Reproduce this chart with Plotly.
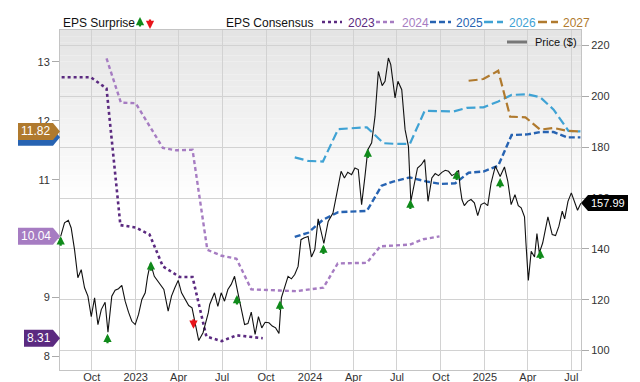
import plotly.graph_objects as go

# ---------------- data ----------------
price_dates = [
    "2022-07-28", "2022-08-05", "2022-08-13", "2022-08-19", "2022-08-26", "2022-09-02", "2022-09-09",
    "2022-09-16", "2022-09-23", "2022-09-30", "2022-10-07", "2022-10-14", "2022-10-21", "2022-10-29",
    "2022-11-04", "2022-11-12", "2022-11-19", "2022-11-26", "2022-12-03", "2022-12-10", "2022-12-17",
    "2022-12-24", "2022-12-31", "2023-01-07", "2023-01-14", "2023-01-21", "2023-01-26", "2023-02-01",
    "2023-02-09", "2023-02-17", "2023-02-24", "2023-03-01", "2023-03-10", "2023-03-17", "2023-03-24",
    "2023-03-31", "2023-04-07", "2023-04-15", "2023-04-22", "2023-04-29", "2023-05-06", "2023-05-13",
    "2023-05-22", "2023-06-02", "2023-06-05", "2023-06-15", "2023-06-22", "2023-06-29", "2023-07-06",
    "2023-07-13", "2023-07-20", "2023-07-27", "2023-08-03", "2023-08-10", "2023-08-17", "2023-08-24",
    "2023-08-31", "2023-09-08", "2023-09-15", "2023-09-22", "2023-09-29", "2023-10-07", "2023-10-14",
    "2023-10-21", "2023-10-28", "2023-11-02", "2023-11-09", "2023-11-16", "2023-11-23", "2023-11-30",
    "2023-12-07", "2023-12-13", "2023-12-19", "2023-12-28", "2024-01-04", "2024-01-11", "2024-01-18",
    "2024-01-30", "2024-02-08", "2024-02-18", "2024-02-25", "2024-03-06", "2024-03-13", "2024-03-20",
    "2024-03-28", "2024-04-04", "2024-04-11", "2024-04-18", "2024-04-25", "2024-05-01", "2024-05-09",
    "2024-05-16", "2024-05-23", "2024-05-31", "2024-06-06", "2024-06-13", "2024-06-18", "2024-06-27",
    "2024-07-03", "2024-07-11", "2024-07-18", "2024-07-25", "2024-07-30", "2024-08-06", "2024-08-13",
    "2024-08-21", "2024-08-28", "2024-09-04", "2024-09-12", "2024-09-19", "2024-09-26", "2024-10-03",
    "2024-10-10", "2024-10-17", "2024-10-24", "2024-10-31", "2024-11-07", "2024-11-10", "2024-11-14",
    "2024-11-19", "2024-11-26", "2024-12-03", "2024-12-10", "2024-12-17", "2024-12-24", "2024-12-31",
    "2025-01-07", "2025-01-14", "2025-01-23", "2025-02-02", "2025-02-11", "2025-02-18", "2025-02-25",
    "2025-03-05", "2025-03-12", "2025-03-18", "2025-03-25", "2025-03-28", "2025-04-02", "2025-04-08",
    "2025-04-15", "2025-04-20", "2025-04-25", "2025-05-02", "2025-05-08", "2025-05-13", "2025-05-22",
    "2025-05-29", "2025-06-05", "2025-06-12", "2025-06-17", "2025-06-24", "2025-07-01", "2025-07-07",
    "2025-07-14", "2025-07-21",
]
price_values = [
    144.9, 150.2, 151.2, 148.2, 139.7, 128.6, 131.8,
    124.7, 121.4, 113.3, 120.7, 110.2, 116.1, 119.0,
    107.2, 121.4, 123.7, 124.3, 125.6, 119.4, 115.1,
    111.5, 110.2, 114.2, 120.1, 122.7, 129.2, 134.5,
    129.2, 127.2, 125.0, 124.0, 115.5, 121.4, 124.7,
    127.6, 122.7, 120.1, 117.7, 116.8, 110.2, 103.9,
    107.0, 114.8, 118.1, 122.7, 117.4, 122.7, 119.4,
    124.0, 126.0, 129.2, 122.7, 116.8, 110.2, 110.6,
    115.1, 106.3, 113.3, 108.9, 111.1, 110.9, 109.6,
    108.9, 106.7, 120.7, 124.7, 129.2, 128.2, 129.9,
    133.1, 143.6, 144.3, 144.9, 136.8, 139.7, 151.8,
    142.1, 150.8, 154.1, 160.7, 170.5, 167.9, 170.1,
    169.2, 171.8, 171.2, 157.4, 168.5, 179.0, 181.7,
    192.1, 209.8, 204.2, 205.9, 215.1, 212.5, 199.4,
    205.9, 202.6, 186.9, 180.3, 158.7, 165.9, 171.8,
    173.1, 175.1, 158.7, 167.9, 169.6, 168.8, 170.1,
    170.9, 170.5, 168.8, 169.6, 170.9, 164.6, 159.4,
    157.0, 158.7, 159.4, 158.1, 153.1, 157.4, 158.1,
    157.0, 165.9, 172.5, 168.5, 172.2, 166.6, 157.4,
    161.3, 157.0, 156.1, 152.6, 142.3, 127.6, 139.0,
    136.8, 146.0, 138.4, 142.3, 148.2, 152.6, 145.6,
    145.2, 148.9, 154.8, 151.8, 158.7, 162.0, 158.7,
    155.2, 157.99,
]

eps2023_dates = ["2022-07-30", "2022-09-29", "2022-11-01", "2022-11-30", "2023-01-01", "2023-01-30",
                 "2023-02-27", "2023-04-03", "2023-04-30", "2023-05-29", "2023-06-30", "2023-07-31",
                 "2023-09-24"]
eps2023_values = [12.74, 12.74, 12.55, 10.23, 10.19, 10.07, 9.53, 9.35, 9.35, 8.34, 8.26, 8.36, 8.31]

eps2024_dates = ["2022-11-01", "2022-12-01", "2023-01-01", "2023-02-27", "2023-03-27", "2023-04-30",
                 "2023-05-31", "2023-06-30", "2023-07-31", "2023-08-31", "2023-10-30", "2023-12-04",
                 "2024-01-29", "2024-02-28", "2024-04-29", "2024-05-27", "2024-07-28", "2024-08-25",
                 "2024-09-28"]
eps2024_values = [13.06, 12.31, 12.30, 11.54, 11.50, 11.51, 9.81, 9.71, 9.66, 9.14, 9.12, 9.11,
                  9.17, 9.58, 9.59, 9.87, 9.90, 9.99, 10.04]

eps2025_dates = ["2023-11-30", "2023-12-28", "2024-01-28", "2024-02-29", "2024-04-29", "2024-05-30",
                 "2024-06-23", "2024-07-28", "2024-09-01", "2024-09-30", "2024-10-31", "2024-11-28",
                 "2024-12-29", "2025-01-29", "2025-02-26", "2025-03-31", "2025-04-27", "2025-05-25",
                 "2025-06-22", "2025-07-20"]
eps2025_values = [10.03, 10.10, 10.32, 10.45, 10.47, 10.90, 10.97, 11.04, 10.97, 10.93, 10.94, 11.12,
                  11.14, 11.24, 11.76, 11.77, 11.81, 11.81, 11.72, 11.72]

eps2026_dates = ["2023-11-30", "2023-12-28", "2024-01-28", "2024-02-29", "2024-04-29", "2024-06-03",
                 "2024-06-27", "2024-07-28", "2024-08-28", "2024-09-30", "2024-10-28", "2024-11-24",
                 "2024-12-29", "2025-01-29", "2025-02-26", "2025-03-31", "2025-04-27", "2025-05-25",
                 "2025-06-25", "2025-07-20"]
eps2026_values = [11.38, 11.32, 11.31, 11.86, 11.89, 11.62, 11.61, 11.61, 12.17, 12.16, 12.16, 12.22,
                  12.23, 12.33, 12.44, 12.45, 12.40, 12.19, 11.83, 11.82]

eps2027_dates = ["2024-11-28", "2024-12-29", "2025-01-29", "2025-02-23", "2025-03-27", "2025-04-27",
                 "2025-05-25", "2025-06-22", "2025-07-20"]
eps2027_values = [12.68, 12.71, 12.85, 12.07, 12.06, 11.85, 11.88, 11.83, 11.82]

surprise_dates = ["2022-07-28", "2022-11-03", "2023-02-02", "2023-05-02", "2023-08-01", "2023-10-30",
                  "2024-01-29", "2024-05-01", "2024-07-29", "2024-11-03", "2025-02-02", "2025-04-27"]
surprise_values = [145.0, 106.6, 135.1, 108.6, 121.8, 119.7, 141.7, 179.5, 159.4, 170.8, 167.9, 139.7]
surprise_beat = [True, True, True, False, True, True, True, True, True, True, True, True]

x_tick_values = ["2022-10-01", "2023-01-01", "2023-04-01", "2023-07-01", "2023-10-01", "2024-01-01",
                 "2024-04-01", "2024-07-01", "2024-10-01", "2025-01-01", "2025-04-01", "2025-07-01"]
x_tick_labels = ["Oct", "2023", "Apr", "Jul", "Oct", "2024", "Apr", "Jul", "Oct", "2025", "Apr", "Jul"]
eps_ticks = [8, 9, 10, 11, 12, 13]
price_ticks = [100, 120, 140, 160, 180, 200, 220]

# ---------------- style ----------------
FONT = "Liberation Sans, Arial, sans-serif"
# the page body has an 8px default margin, so the figure is drawn 8px smaller
W, H = 632, 374
ML, MR, MT, MB = 52, 59, 22, 12
PW, PH = W - ML - MR, H - MT - MB
OFF = 8

C23, C24, C25, C26, C27 = "#5b2a80", "#a67cc2", "#2763b2", "#3fa2d4", "#b07a2e"
GREEN, RED = "#0f8a1a", "#e8141a"


def px(x):  # page pixel -> paper x
    return (x - OFF - ML) / PW


def py(y):  # page pixel -> paper y
    return 1 - (y - OFF - MT) / PH


fig = go.Figure()

series = [
    (eps2023_dates, eps2023_values, C23, "dot", 2.6),
    (eps2024_dates, eps2024_values, C24, "4px,3px", 2.4),
    (eps2025_dates, eps2025_values, C25, "6px,3px", 2.4),
    (eps2026_dates, eps2026_values, C26, "9px,4px", 2.2),
    (eps2027_dates, eps2027_values, C27, "9px,4px", 2.2),
]
for d, v, c, dash, w in series:
    fig.add_trace(go.Scatter(x=d, y=v, mode="lines", yaxis="y",
                             line=dict(color=c, dash=dash, width=w),
                             hoverinfo="skip", showlegend=False))

fig.add_trace(go.Scatter(x=price_dates, y=price_values, mode="lines", yaxis="y2",
                         line=dict(color="#111111", width=1.1),
                         hoverinfo="skip", showlegend=False))

shapes = []
annotations = []

# background gradient
nb = 28
for i in range(nb):
    g = int(round(228 + (255 - 228) * (i / (nb - 1))))
    top = 1 - 0.52 * i / nb
    bot = 1 - 0.52 * (i + 1) / nb
    shapes.append(dict(type="rect", xref="paper", yref="paper", x0=0, x1=1, y0=bot, y1=top,
                       fillcolor=f"rgb({g},{g},{g})", line=dict(width=0), layer="below"))

ARROW = dict(arrowhead=2, arrowsize=0.75, arrowwidth=2.2, standoff=0, startstandoff=0)

# surprise arrows
for d, v, beat in zip(surprise_dates, surprise_values, surprise_beat):
    annotations.append(dict(x=d, y=v, xref="x", yref="y2", text="", showarrow=True,
                            arrowcolor=GREEN if beat else RED,
                            ax=0, ay=11 if beat else -11, **ARROW))

# left value tags (blue under brown)
half = 8.5 / 59
left_tags = [
    (eps2025_values[-1], C25, 18, False),
    (eps2027_values[-1], C27, 18, True),
    (eps2024_values[-1], C24, 18, True),
    (eps2023_values[-1], C23, 24, True),
]
for v, c, x0p, show_text in left_tags:
    x0, x1, x2 = px(x0p), px(53), px(60)
    path = (f"M {x0},{v - half} L {x1},{v - half} L {x2},{v} L {x1},{v + half} "
            f"L {x0},{v + half} Z")
    shapes.append(dict(type="path", xref="paper", yref="y", path=path, fillcolor=c,
                       line=dict(width=0)))
    if show_text:
        annotations.append(dict(x=(x0 + x1) / 2, y=v, xref="paper", yref="y",
                                xanchor="center", yanchor="middle",
                                text=f"{v:.2f}", showarrow=False,
                                font=dict(family=FONT, size=12, color="white")))

# right price tag
pv = price_values[-1]
ph = 8 / 2.543
x2, x1, x0 = px(581), px(588), px(628)
path = (f"M {x2},{pv} L {x1},{pv - ph} L {x0},{pv - ph} L {x0},{pv + ph} L {x1},{pv + ph} Z")
shapes.append(dict(type="path", xref="paper", yref="y2", path=path, fillcolor="#000000",
                   line=dict(width=0)))
annotations.append(dict(x=(x1 + x0) / 2, y=pv, xref="paper", yref="y2", text=f"{pv:.2f}",
                        xanchor="center", yanchor="middle",
                        showarrow=False, font=dict(family=FONT, size=11, color="white")))

# header legend
ly = py(23)
annotations.append(dict(x=px(61), y=ly, xref="paper", yref="paper", text="EPS Surprise",
                        xanchor="left", yanchor="middle", showarrow=False,
                        font=dict(family=FONT, size=12, color="#111")))
annotations.append(dict(x=px(140), y=py(17), xref="paper", yref="paper", text="", showarrow=True,
                        arrowcolor=GREEN, ax=0, ay=11, **ARROW))
annotations.append(dict(x=px(150), y=py(29), xref="paper", yref="paper", text="", showarrow=True,
                        arrowcolor=RED, ax=0, ay=-11, **ARROW))
annotations.append(dict(x=px(224), y=ly, xref="paper", yref="paper", text="EPS Consensus",
                        xanchor="left", yanchor="middle", showarrow=False,
                        font=dict(family=FONT, size=12, color="#111")))
legend_items = [
    ("2023", C23, "dot", 322, 342, 346),
    ("2024", C24, "4px,3px", 376, 397, 400),
    ("2025", C25, "6px,3px", 430, 451, 454),
    ("2026", C26, "9px,4px", 484, 503, 507),
    ("2027", C27, "9px,4px", 538, 558, 561),
]
for label, c, dash, a, b, tx in legend_items:
    shapes.append(dict(type="line", xref="paper", yref="paper", x0=px(a), x1=px(b), y0=py(22),
                       y1=py(22), line=dict(color=c, width=2.4, dash=dash)))
    annotations.append(dict(x=px(tx), y=ly, xref="paper", yref="paper", text=label,
                            xanchor="left", yanchor="middle", showarrow=False,
                            font=dict(family=FONT, size=12, color=c)))

# price legend
shapes.append(dict(type="line", xref="paper", yref="paper", x0=px(507), x1=px(527), y0=py(42),
                   y1=py(42), line=dict(color="#777777", width=3)))
annotations.append(dict(x=px(533), y=py(42), xref="paper", yref="paper", text="Price ($)",
                        xanchor="left", yanchor="middle", showarrow=False,
                        font=dict(family=FONT, size=11, color="#111")))

GRID = "#d2d2d2"
fig.update_layout(
    width=W, height=H, autosize=False,
    margin=dict(l=ML, r=MR, t=MT, b=MB),
    paper_bgcolor="white", plot_bgcolor="white",
    font=dict(family=FONT, size=11, color="#333"),
    showlegend=False,
    shapes=shapes, annotations=annotations,
    xaxis=dict(type="date", range=["2022-07-26 14:00", "2025-07-21 06:00"],
               tickvals=x_tick_values, ticktext=x_tick_labels,
               showgrid=True, gridcolor=GRID, gridwidth=1,
               showline=True, linecolor="#c4c4c4", mirror=True,
               ticks="", automargin=False, zeroline=False, ticklabelstandoff=-3,
               tickfont=dict(family=FONT, size=11, color="#333")),
    yaxis=dict(range=[7.771, 13.542], tickvals=eps_ticks, showgrid=False, zeroline=False,
               ticks="outside", ticklen=7, tickcolor="#aaaaaa", showline=True,
               linecolor="#c4c4c4", automargin=False,
               tickfont=dict(family=FONT, size=11, color="#333")),
    yaxis2=dict(range=[92.33, 226.1], tickvals=price_ticks, overlaying="y", side="right",
                showgrid=True, gridcolor=GRID, gridwidth=1, zeroline=False,
                ticks="outside", ticklen=7, tickcolor="#aaaaaa", showline=True,
                linecolor="#c4c4c4", automargin=False,
                tickfont=dict(family=FONT, size=11, color="#333")),
)

fig.write_html("out.html")
